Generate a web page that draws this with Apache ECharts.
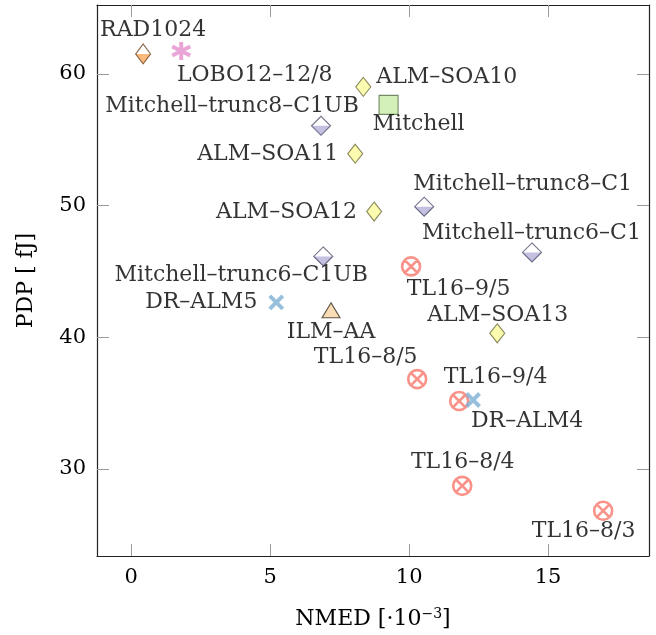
<!DOCTYPE html>
<html><head><meta charset="utf-8">
<script src="https://cdn.jsdelivr.net/npm/echarts@6/dist/echarts.min.js"></script>
<style>html,body{margin:0;padding:0;background:#fff}#c{width:656px;height:635px}</style>
</head><body><div id="c"></div>
<script>
// ---- data ----
const names = ['RAD1024','LOBO12–12/8','ALM–SOA10','Mitchell','Mitchell–trunc8–C1UB','ALM–SOA11','ALM–SOA12',
  'Mitchell–trunc6–C1UB','DR–ALM5','ILM–AA','Mitchell–trunc8–C1','Mitchell–trunc6–C1','TL16–9/5','ALM–SOA13',
  'TL16–8/5','TL16–9/4','DR–ALM4','TL16–8/4','TL16–8/3'];
const nmed = [0.43, 1.80, 8.35, 9.26, 6.83, 8.06, 8.74, 6.91, 5.22, 7.19, 10.54, 14.42, 10.07, 13.17, 10.29, 11.80, 12.30, 11.91, 16.98];
const pdp  = [61.52, 61.74, 59.02, 57.65, 56.06, 53.94, 49.55, 46.14, 42.65, 42.05, 49.92, 46.44, 45.38, 40.30, 36.82, 35.15, 35.23, 28.71, 26.82];
const kinds = ['rad','lobo','alm','mitchell','trunc','alm','alm','trunc','dr','ilm','trunc','trunc','tl','alm','tl','tl','dr','tl','tl'];
const xTicks = [0, 5, 10, 15];
const yTicks = [30, 40, 50, 60];
const xRange = [-1.23, 18.63];
const yRange = [23.38, 65.24];

// ---- label placement (style, px offsets from marker centre) ----
const labelOffsets = {
  'RAD1024':[10,-24], 'LOBO12–12/8':[73.5,24], 'ALM–SOA10':[83.5,-10], 'Mitchell':[30,19],
  'Mitchell–trunc8–C1UB':[-89,-20], 'ALM–SOA11':[-87.5,1], 'ALM–SOA12':[-87.5,1],
  'Mitchell–trunc6–C1UB':[-82,19], 'DR–ALM5':[-75,0], 'ILM–AA':[0,22], 'Mitchell–trunc8–C1':[98.5,-22],
  'Mitchell–trunc6–C1':[-0.5,-19], 'TL16–9/5':[47.5,23], 'ALM–SOA13':[0.5,-18], 'TL16–8/5':[-51.5,-22],
  'TL16–9/4':[36.5,-24], 'DR–ALM4':[54,21], 'TL16–8/4':[0.5,-24], 'TL16–8/3':[-19.5,21]
};

const FONT = 'DejaVu Serif';
const FS = 22;
const TFS = 21;

function pts(kind, withLabel) {
  const out = [];
  names.forEach((n, i) => {
    if (kinds[i] !== kind) return;
    const d = { name: n, value: [nmed[i], pdp[i]] };
    if (withLabel) d.label = { offset: labelOffsets[n] };
    out.push(d);
  });
  return out;
}
const baseLabel = { show: true, position: 'inside', formatter: '{b}', color: '#000',
  fontFamily: FONT, fontSize: FS, textBorderWidth: 0, align: 'center', verticalAlign: 'middle' };
const noLabel = { show: false };

const HALF = 'path://M0,0 L2,0 L1,1 Z';
const ASTER = 'path://M10,0 L10,20 M1.34,5 L18.66,15 M1.34,15 L18.66,5';
const CROSS = 'path://M0,0 L10,10 M0,10 L10,0';
const OTIMES = 'path://M20,10 A10,10 0 1,1 0,10 A10,10 0 1,1 20,10 Z M2.93,2.93 L17.07,17.07 M2.93,17.07 L17.07,2.93';

const series = [
  // RAD1024 half-filled diamond
  { type:'scatter', data: pts('rad', false), symbol: HALF, symbolSize:[15,10], symbolOffset:[0,5],
    itemStyle:{ color:'#f9a95a', borderWidth:0 }, label: noLabel, z:2 },
  { type:'scatter', data: pts('rad', true), symbol:'diamond', symbolSize:[15,20],
    itemStyle:{ color:'rgba(255,255,255,0)', borderColor:'#6b4420', borderWidth:1.1 }, label: baseLabel, z:3 },
  // Mitchell-trunc half-filled diamonds
  { type:'scatter', data: pts('trunc', false), symbol: HALF, symbolSize:[19,9.5], symbolOffset:[0,4.75],
    itemStyle:{ color:'#b4b0d8', borderWidth:0 }, label: noLabel, z:2 },
  { type:'scatter', data: pts('trunc', true), symbol:'diamond', symbolSize:[19,19],
    itemStyle:{ color:'rgba(255,255,255,0)', borderColor:'#4b4b66', borderWidth:1.1 }, label: baseLabel, z:3 },
  // ALM-SOA yellow diamonds
  { type:'scatter', data: pts('alm', true), symbol:'diamond', symbolSize:[15,19],
    itemStyle:{ color:'#fbfb9c', borderColor:'#6d6d3c', borderWidth:1.1 }, label: baseLabel, z:3 },
  // Mitchell square
  { type:'scatter', data: pts('mitchell', true), symbol:'rect', symbolSize:[19,19],
    itemStyle:{ color:'#c9eca8', borderColor:'#566e48', borderWidth:1.1 }, label: baseLabel, z:3 },
  // LOBO asterisk
  { type:'scatter', data: pts('lobo', true), symbol: ASTER, symbolSize:[18,18],
    itemStyle:{ color:'#e48fcb', borderColor:'#e48fcb', borderWidth:4 }, label: baseLabel, z:3 },
  // DR-ALM crosses
  { type:'scatter', data: pts('dr', true), symbol: CROSS, symbolSize:[13,13],
    itemStyle:{ color:'#7eb0d4', borderColor:'#7eb0d4', borderWidth:4 }, label: baseLabel, z:4 },
  // TL16 circle-times
  { type:'scatter', data: pts('tl', true), symbol: OTIMES, symbolSize:[18,18],
    itemStyle:{ color:'rgba(255,255,255,0)', borderColor:'#f7776b', borderWidth:2.6 }, label: baseLabel, z:3 },
  // ILM-AA triangle
  { type:'scatter', data: pts('ilm', true), symbol:'triangle', symbolSize:[18,15],
    itemStyle:{ color:'#f8d4a4', borderColor:'#3a3020', borderWidth:1.1 }, label: baseLabel, z:3 }
];

const tickStyle = { show:true, inside:true, length:12, lineStyle:{ color:'#9a9a9a', width:1 } };
const axisLineStyle = { show:true, onZero:false, lineStyle:{ color:'#222', width:1.2 } };

const option = {
  animation: false,
  backgroundColor: '#fff',
  grid: { left: 97, top: 5, width: 552, height: 552, containLabel: false },
  xAxis: [
    { type:'value', min:xRange[0], max:xRange[1], position:'bottom',
      axisLine: axisLineStyle, splitLine:{ show:false },
      axisTick: Object.assign({ customValues: xTicks }, tickStyle),
      axisLabel:{ customValues: xTicks, margin: 11, color:'#000', fontFamily:FONT, fontSize:TFS },
      name: 'NMED [·10{s|−3}]', nameLocation:'middle', nameGap: 51,
      nameTextStyle:{ color:'#000', fontFamily:FONT, fontSize:FS,
        rich:{ s:{ fontFamily:FONT, fontSize:14, verticalAlign:'top', padding:[0,0,10,0], color:'#000' } } } },
    { type:'value', min:xRange[0], max:xRange[1], position:'top',
      axisLine: axisLineStyle, splitLine:{ show:false },
      axisTick: Object.assign({ customValues: xTicks }, tickStyle),
      axisLabel:{ show:false } }
  ],
  yAxis: [
    { type:'value', min:yRange[0], max:yRange[1], position:'left',
      axisLine: axisLineStyle, splitLine:{ show:false },
      axisTick: Object.assign({ customValues: yTicks }, tickStyle),
      axisLabel:{ customValues: yTicks, margin: 11, color:'#000', fontFamily:FONT, fontSize:TFS },
      name: 'PDP [ fJ]', nameLocation:'middle', nameGap: 60, nameRotate: 90,
      nameTextStyle:{ color:'#000', fontFamily:FONT, fontSize:FS } },
    { type:'value', min:yRange[0], max:yRange[1], position:'right',
      axisLine: axisLineStyle, splitLine:{ show:false },
      axisTick: Object.assign({ customValues: yTicks }, tickStyle),
      axisLabel:{ show:false } }
  ],
  series: series
};
const chart = echarts.init(document.getElementById('c'), null, { renderer:'canvas' });
chart.setOption(option);
</script>
</body></html>
